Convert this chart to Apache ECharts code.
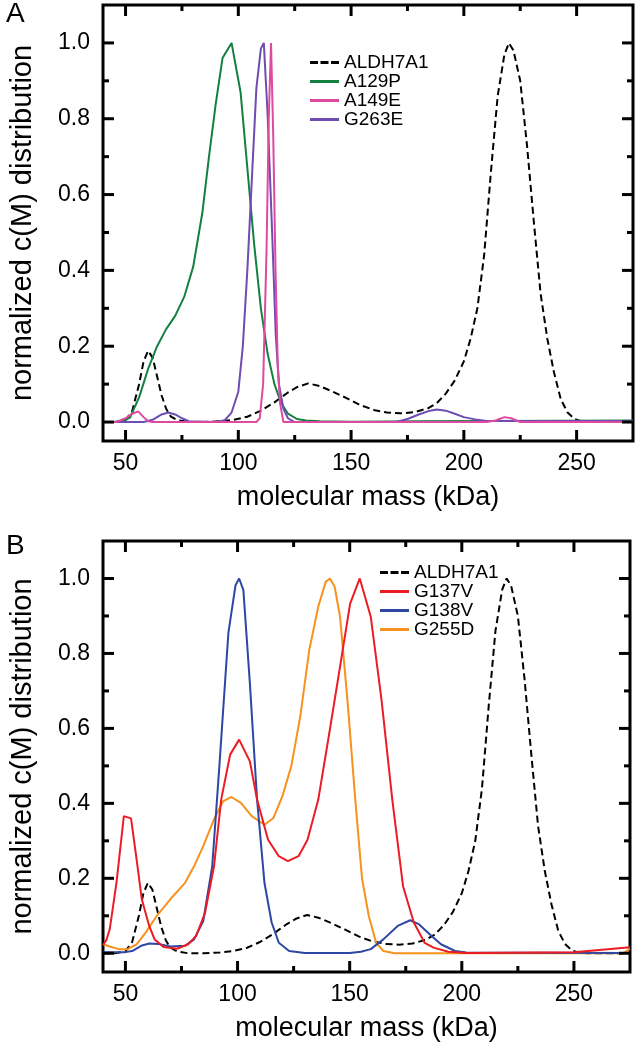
<!DOCTYPE html>
<html><head><meta charset="utf-8">
<script src="https://cdn.jsdelivr.net/npm/echarts@6.0.0/dist/echarts.min.js"></script>
<style>html,body{margin:0;padding:0;background:#fff}#chart{width:636px;height:1050px}</style>
</head><body><div id="chart"></div>
<script>
// ---- tick labels ----
const xMajorTicks = [50, 100, 150, 200, 250];
const xMinorTicks = [75, 125, 175, 225];
const yMajorTicks = [0, 0.2, 0.4, 0.6, 0.8, 1.0];
const yMinorTicks = [0.1, 0.3, 0.5, 0.7, 0.9];
const xTitle = 'molecular mass (kDa)';
const yTitle = 'normalized c(M) distribution';
const legendA = ['ALDH7A1', 'A129P', 'A149E', 'G263E'];
const legendB = ['ALDH7A1', 'G137V', 'G138V', 'G255D'];

// ---- ALDH7A1 (both panels) ----
const aldhX = [40,45,50,53,56,58,60,62,64,66,68,70,73,78,85,92,98,104,110,116,122,126,131,136,142,148,154,160,166,172,178,184,188,192,196,200,203,206,209,212,215,218,220,222,225,228,231,234,237,240,243,246,249,252,256,275];
const aldhY = [0,0,0.005,0.03,0.1,0.16,0.188,0.17,0.12,0.07,0.035,0.015,0.005,0,0,0.002,0.006,0.014,0.03,0.052,0.078,0.092,0.102,0.095,0.08,0.063,0.045,0.032,0.025,0.023,0.026,0.036,0.05,0.075,0.11,0.16,0.22,0.3,0.44,0.66,0.86,0.97,1.0,0.98,0.9,0.73,0.53,0.34,0.22,0.13,0.06,0.025,0.008,0.002,0,0];

// ---- Panel A ----
const a129pX = [40,46,49,52,56,60,64,68,72,76,80,84,87,90,93,97,101,104,107,110,113,116,119,122,126,130,136,150,180,275];
const a129pY = [0,0,0.003,0.012,0.065,0.14,0.2,0.245,0.28,0.33,0.41,0.55,0.7,0.84,0.96,1.0,0.87,0.67,0.47,0.3,0.18,0.1,0.05,0.022,0.008,0.004,0.002,0.001,0.002,0.004];
const a149eX = [40,46,50,53,55.6,58,60,62,108,109.5,111,112.5,113.5,114.5,115.5,116.5,117.5,118.5,120,122,210,214,218,221,225,275];
const a149eY = [0,0,0.01,0.022,0.028,0.013,0.002,0,0,0.01,0.1,0.45,0.8,1.0,0.75,0.4,0.15,0.05,0,0,0,0.004,0.013,0.01,0,0];
const g263eX = [40,58,62,66,69,72,75,78,90,94,97,100,102,104,106,108,110,111.3,113,115,116.6,118,120,122,125,170,175,180,185,188,192,196,200,205,210,275];
const g263eY = [0,0,0.006,0.02,0.025,0.02,0.01,0.002,0,0.005,0.025,0.08,0.2,0.4,0.64,0.88,0.985,1.0,0.81,0.5,0.23,0.1,0.035,0.01,0,0,0.008,0.02,0.03,0.033,0.03,0.022,0.013,0.007,0.003,0.003];

// ---- Panel B ----
const g137vX = [40,41.5,43,46,49.3,52.5,55,57.3,60.6,63,67,73,78,81.5,85.5,89.5,92.7,96.7,100.7,105.5,108.7,113.6,118.4,122.4,127.2,131.2,136,140.9,145.7,150.2,154.5,159.4,164.2,169,173.8,178.6,183.4,187.4,194,202,250,275];
const g137vY = [0.022,0.035,0.064,0.188,0.366,0.36,0.25,0.144,0.073,0.037,0.017,0.012,0.024,0.046,0.108,0.232,0.41,0.53,0.57,0.512,0.41,0.303,0.259,0.246,0.259,0.303,0.41,0.587,0.765,0.933,1.0,0.898,0.676,0.41,0.179,0.082,0.028,0.015,0.004,0.001,0.003,0.016];
const g138vX = [40,50,53,57,60.6,64.6,70,76.6,80.6,84.7,88.7,91.9,95.9,99.1,100.7,102.6,105.5,108.7,112,115.2,118.4,123,130,150,155,159.4,165,171.4,177,181,185.8,190.7,197,202,275];
const g138vY = [0.003,0.003,0.006,0.02,0.026,0.025,0.018,0.02,0.037,0.086,0.232,0.5,0.854,0.982,1.0,0.969,0.72,0.41,0.188,0.082,0.028,0.006,0.001,0.001,0.004,0.011,0.037,0.073,0.088,0.077,0.05,0.024,0.006,0.002,0.001];
const g255dX = [40,43,47,51,55,59,64,70,76.6,80.6,84.7,89.5,93.5,97.2,101.5,106.3,112,116,120,124,128,132,136,139.3,141.2,143.3,145.7,149,152.5,155.5,158.5,161.8,165,170,272,275];
const g255dY = [0.024,0.018,0.011,0.011,0.024,0.055,0.1,0.144,0.188,0.232,0.286,0.357,0.405,0.417,0.401,0.366,0.343,0.361,0.419,0.5,0.633,0.81,0.925,0.991,1.0,0.978,0.898,0.676,0.41,0.2,0.1,0.028,0.006,0,0,0.012];

const FONT = '"Liberation Sans", Arial, Helvetica, sans-serif';
const pair = (xs, ys) => xs.map((x, i) => [x, ys[i]]);
const DASH_ICON = 'path://M0,0h8v3h-8z M10.5,0h8v3h-8z M21,0h8v3h-8z';
const X_MIN = 40, X_MAX = 275, Y_MIN = -0.05, Y_MAX = 1.1;
const GRIDS = [
  { left: 96, top: 5, width: 537, height: 436 },
  { left: 94, top: 541, width: 536, height: 431 }
];

function xAxis(g) {
  return { type: 'value', gridIndex: g, min: X_MIN, max: X_MAX, position: 'bottom',
    splitLine: { show: false }, axisLine: { show: false, onZero: false }, axisTick: { show: false },
    axisLabel: { show: true, customValues: xMajorTicks, fontSize: 23, color: '#000', margin: 11, fontFamily: FONT },
    name: xTitle, nameLocation: 'middle', nameGap: 43,
    nameTextStyle: { fontSize: 27, color: '#000', fontFamily: FONT } };
}
function yAxis(g) {
  return { type: 'value', gridIndex: g, min: Y_MIN, max: Y_MAX, position: 'left',
    splitLine: { show: false }, axisLine: { show: false, onZero: false }, axisTick: { show: false },
    axisLabel: { show: true, customValues: yMajorTicks, fontSize: 23, color: '#000', margin: 13, fontFamily: FONT,
      formatter: v => v.toFixed(1) },
    name: yTitle, nameLocation: 'middle', nameGap: 66, nameRotate: 90,
    nameTextStyle: { fontSize: 29, color: '#000', fontFamily: FONT } };
}
function line(name, xs, ys, color, g, dashed) {
  return { type: 'line', name, xAxisIndex: g, yAxisIndex: g, data: pair(xs, ys),
    symbol: 'none', showSymbol: false, smooth: false, animation: false,
    itemStyle: { color }, lineStyle: { color, width: 2, type: dashed ? [7, 4] : 'solid' } };
}
function legend(names, left, top) {
  return { data: names.map(n => ({ name: n, icon: n === 'ALDH7A1' ? DASH_ICON : 'rect' })),
    orient: 'vertical', left, top, padding: 0,
    itemWidth: 29, itemHeight: 3, itemGap: 0, selectedMode: false,
    textStyle: { fontSize: 19, lineHeight: 18.3, color: '#000', fontFamily: FONT } };
}

const chart = echarts.init(document.getElementById('chart'), null, { renderer: 'canvas' });

// pixel position of a value pair in grid g; uses the chart's own scale when available
function toPx(g, x, y, useChart) {
  let p = null;
  if (useChart) {
    try { p = chart.convertToPixel({ gridIndex: g }, [x, y]); } catch (e) { p = null; }
  }
  if (!p || !isFinite(p[0]) || !isFinite(p[1])) {
    const G = GRIDS[g];
    p = [G.left + (x - X_MIN) / (X_MAX - X_MIN) * G.width,
         G.top + G.height - (y - Y_MIN) / (Y_MAX - Y_MIN) * G.height];
  }
  return p;
}
// inward tick marks on all four sides
function tickGraphics(g, useChart) {
  const out = [];
  const p0 = toPx(g, X_MIN, Y_MIN, useChart), p1 = toPx(g, X_MAX, Y_MAX, useChart);
  const xl = p0[0], xr = p1[0], yb = p0[1], yt = p1[1];
  const st = { stroke: '#000', lineWidth: 3 };
  let k = 0;
  const addX = (v, len) => {
    const px = toPx(g, v, 0, useChart)[0];
    out.push({ id: 't' + g + '_' + (k++), type: 'line', z: 100, silent: true, shape: { x1: px, y1: yb, x2: px, y2: yb - len }, style: st });
    out.push({ id: 't' + g + '_' + (k++), type: 'line', z: 100, silent: true, shape: { x1: px, y1: yt, x2: px, y2: yt + len }, style: st });
  };
  const addY = (v, len) => {
    const py = toPx(g, 100, v, useChart)[1];
    out.push({ id: 't' + g + '_' + (k++), type: 'line', z: 100, silent: true, shape: { x1: xl, y1: py, x2: xl + len, y2: py }, style: st });
    out.push({ id: 't' + g + '_' + (k++), type: 'line', z: 100, silent: true, shape: { x1: xr, y1: py, x2: xr - len, y2: py }, style: st });
  };
  xMajorTicks.forEach(v => addX(v, 11));
  xMinorTicks.forEach(v => addX(v, 6));
  yMajorTicks.forEach(v => addY(v, 11));
  yMinorTicks.forEach(v => addY(v, 6));
  return out;
}

chart.setOption({
  animation: false,
  backgroundColor: '#fff',
  textStyle: { fontFamily: FONT },
  title: [
    { text: 'A', left: 6, top: 0, padding: 0, textStyle: { fontSize: 28, fontWeight: 'normal', color: '#000', fontFamily: FONT } },
    { text: 'B', left: 6, top: 532, padding: 0, textStyle: { fontSize: 28, fontWeight: 'normal', color: '#000', fontFamily: FONT } }
  ],
  grid: GRIDS.map(g => Object.assign({ show: true, borderColor: '#000', borderWidth: 3, containLabel: false }, g)),
  xAxis: [xAxis(0), xAxis(1)],
  yAxis: [yAxis(0), yAxis(1)],
  legend: [legend(legendA, 310, 53), legend(legendB, 380, 563)],
  graphic: tickGraphics(0, false).concat(tickGraphics(1, false)),
  series: [
    line('ALDH7A1', aldhX, aldhY, '#000000', 0, true),
    line('A129P', a129pX, a129pY, '#13803F', 0, false),
    line('G263E', g263eX, g263eY, '#6E4DB3', 0, false),
    line('A149E', a149eX, a149eY, '#DD4A9F', 0, false),
    line('ALDH7A1', aldhX, aldhY, '#000000', 1, true),
    line('G255D', g255dX, g255dY, '#F7921E', 1, false),
    line('G138V', g138vX, g138vY, '#2D47A3', 1, false),
    line('G137V', g137vX, g137vY, '#EC1C24', 1, false)
  ]
});
// refine tick positions with the chart's own axis scales
chart.setOption({ graphic: tickGraphics(0, true).concat(tickGraphics(1, true)) });
</script></blockquote></body></html>
